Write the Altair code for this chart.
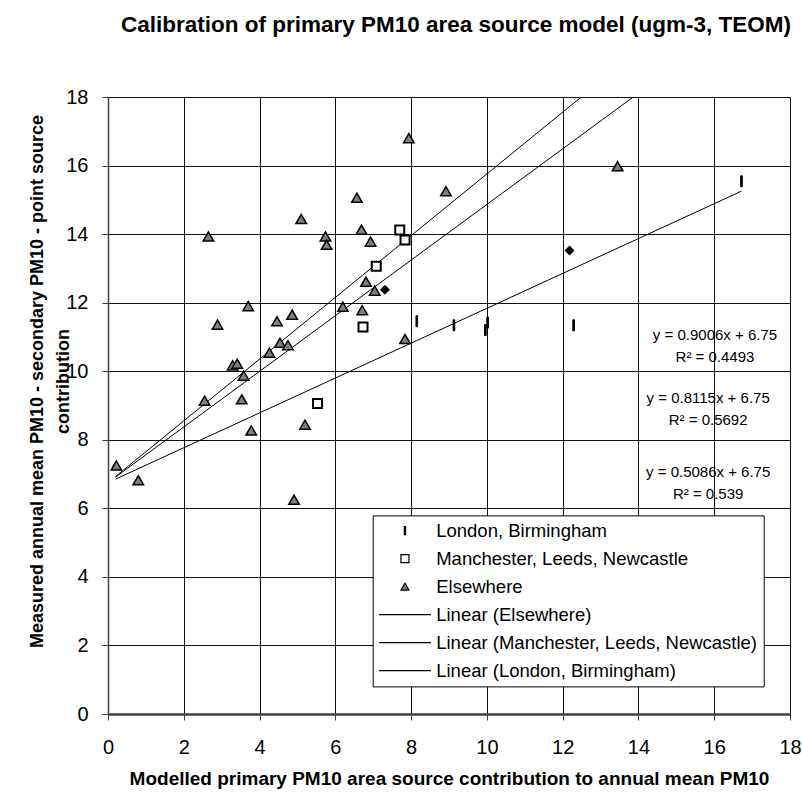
import altair as alt
import pandas as pd

FONT = "Liberation Sans"

# ---------------- data ----------------
series_names = [
    "London, Birmingham",
    "Manchester, Leeds, Newcastle",
    "Elsewhere",
    "Linear (Elsewhere)",
    "Linear (Manchester, Leeds, Newcastle)",
    "Linear (London, Birmingham)",
]

london_x = [8.15, 9.13, 10.02, 9.96, 12.29, 16.72]
london_y = [11.46, 11.34, 11.42, 11.20, 11.34, 15.54]

manc_x = [7.70, 7.84, 7.08, 6.73, 5.53]
manc_y = [14.12, 13.83, 13.06, 11.29, 9.06]

else_x = [7.94, 8.92, 6.57, 5.10, 2.65, 5.74, 5.77, 6.69, 6.93, 6.81, 7.04, 6.20,
          6.71, 3.70, 2.89, 4.46, 4.86, 4.54, 4.75, 4.26, 7.84, 3.29, 3.41, 3.58,
          0.22, 0.80, 2.55, 3.53, 3.78, 5.20, 4.91, 13.45]
else_y = [16.80, 15.25, 15.06, 14.44, 13.93, 13.93, 13.69, 14.13, 13.78, 12.61, 12.35, 11.88,
          11.78, 11.90, 11.36, 11.46, 11.65, 10.83, 10.76, 10.54, 10.94, 10.17, 10.22, 9.87,
          7.25, 6.82, 9.14, 9.18, 8.27, 8.44, 6.25, 15.98]

diamond_x = [7.31, 12.18]
diamond_y = [12.38, 13.52]

trend_names = ["Linear (Elsewhere)", "Linear (Manchester, Leeds, Newcastle)", "Linear (London, Birmingham)"]
trend_slope = [0.9006, 0.8115, 0.5086]
trend_intercept = [6.75, 6.75, 6.75]
trend_x_start = [0.2, 0.2, 0.2]
trend_x_end = [13.45, 14.0, 16.72]

eq_text = ["y = 0.9006x + 6.75\nR\u00b2 = 0.4493",
           "y = 0.8115x + 6.75\nR\u00b2 = 0.5692",
           "y = 0.5086x + 6.75\nR\u00b2 = 0.539"]
eq_x = [16.02, 15.84, 15.84]
eq_y = [11.07, 9.22, 7.06]

x_ticks = [0, 2, 4, 6, 8, 10, 12, 14, 16, 18]
y_ticks = [0, 2, 4, 6, 8, 10, 12, 14, 16, 18]

# ---------------- styling tables ----------------
shape_range = ["M-0.15,-1H0.15V1H-0.15Z", "square", "triangle-up",
               "M-6.5,0H6.5", "M-6.5,0H6.5", "M-6.5,0H6.5"]
fill_range = ["black", "white", "#808080", "white", "white", "white"]
stroke_range = ["black"] * 6
point_size = {"London, Birmingham": 121, "Manchester, Leeds, Newcastle": 81, "Elsewhere": 110}
point_sw = {"London, Birmingham": 1, "Manchester, Leeds, Newcastle": 2, "Elsewhere": 1.5}

rows = []
for name, xs, ys in [(series_names[0], london_x, london_y),
                     (series_names[1], manc_x, manc_y),
                     (series_names[2], else_x, else_y)]:
    for xv, yv in zip(xs, ys):
        rows.append({"series": name, "x": xv, "y": yv,
                     "sz": point_size[name], "sw": point_sw[name]})
points_df = pd.DataFrame(rows)

trend_rows = []
for n, m, c, x0, x1 in zip(trend_names, trend_slope, trend_intercept, trend_x_start, trend_x_end):
    trend_rows.append({"line": n, "x": x0, "y": m * x0 + c})
    trend_rows.append({"line": n, "x": x1, "y": m * x1 + c})
trend_df = pd.DataFrame(trend_rows)

diamond_df = pd.DataFrame({"x": diamond_x, "y": diamond_y})
eq_df = pd.DataFrame({"x": eq_x, "y": eq_y, "t": eq_text})

# ---------------- scales / axes ----------------
xscale = alt.Scale(domain=[0, 18], nice=False, zero=False)
yscale = alt.Scale(domain=[0, 18], nice=False, zero=False)

x_axis = alt.Axis(
    values=x_ticks, title="Modelled primary PM10 area source contribution to annual mean PM10",
    titleFont=FONT, titleFontSize=19, titleFontWeight="bold", titleColor="black",
    titleY=70, titleBaseline="alphabetic",
    labelFont=FONT, labelFontSize=20, labelColor="black", labelBaseline="middle",
    labelPadding=27, labelFlush=False, labelOverlap=False,
    grid=True, gridColor="#111111", gridWidth=1,
    domainColor="#404040", domainWidth=2.5,
    tickColor="#404040", tickSize=6, tickWidth=1,
)
y_axis = alt.Axis(
    values=y_ticks,
    title=["Measured annual mean PM10 - secondary PM10 - point source", "contribution"],
    titleFont=FONT, titleFontSize=18, titleFontWeight="bold", titleColor="black",
    titleAngle=270, titleX=-71, titleY=284, titleAlign="center", titleBaseline="middle",
    titleLineHeight=26,
    labelFont=FONT, labelFontSize=20, labelColor="black", labelBaseline="middle",
    labelPadding=14, labelFlush=False, labelOverlap=False,
    grid=True, gridColor="#111111", gridWidth=1,
    domainColor="#404040", domainWidth=1.5,
    tickColor="#404040", tickSize=6, tickWidth=1,
)

legend = alt.Legend(
    title=None, orient="none", legendX=264.7, legendY=418.4,
    padding=6, fillColor="white", strokeColor="black",
    labelFont=FONT, labelFontSize=18.5, labelColor="black",
    rowPadding=9, symbolSize=64, symbolStrokeWidth=1.2, symbolStrokeColor="black",
    symbolOffset=17, labelOffset=22, labelLimit=500,
)

X = alt.X("x:Q", scale=xscale, axis=x_axis)
Y = alt.Y("y:Q", scale=yscale, axis=y_axis)

trend = alt.Chart(trend_df).mark_line(color="black", strokeWidth=1, clip=True).encode(
    x=X, y=Y, detail="line:N",
)

pts = alt.Chart(points_df).mark_point(filled=True, opacity=1).encode(
    x=X, y=Y,
    shape=alt.Shape("series:N", scale=alt.Scale(domain=series_names, range=shape_range), legend=legend),
    fill=alt.Fill("series:N", scale=alt.Scale(domain=series_names, range=fill_range), legend=legend),
    stroke=alt.Stroke("series:N", scale=alt.Scale(domain=series_names, range=stroke_range), legend=legend),
    size=alt.Size("sz:Q", scale=None),
    strokeWidth=alt.StrokeWidth("sw:Q", scale=None),
)

diam = alt.Chart(diamond_df).mark_point(shape="diamond", filled=True, color="black",
                                        opacity=1, size=100).encode(x=X, y=Y)

eqs = alt.Chart(eq_df).mark_text(font=FONT, fontSize=15, lineBreak="\n", lineHeight=22,
                                 align="center", baseline="middle", color="black").encode(
    x=X, y=Y, text="t:N")

chart = alt.layer(trend, pts, diam, eqs).properties(
    width=682, height=617,
    title=alt.Title("Calibration of primary PM10 area source model (ugm-3, TEOM)",
                    font=FONT, fontSize=22.5, fontWeight="bold", color="black",
                    anchor="middle", frame="group", offset=33, dx=7, baseline="alphabetic"),
    autosize=alt.AutoSizeParams(type="none"),
    padding={"left": 108, "top": 97, "right": 12, "bottom": 80},
).configure_view(stroke="black", strokeWidth=1).configure(background="white")

chart.save("out.html", embed_options={"renderer": "svg", "actions": False})
